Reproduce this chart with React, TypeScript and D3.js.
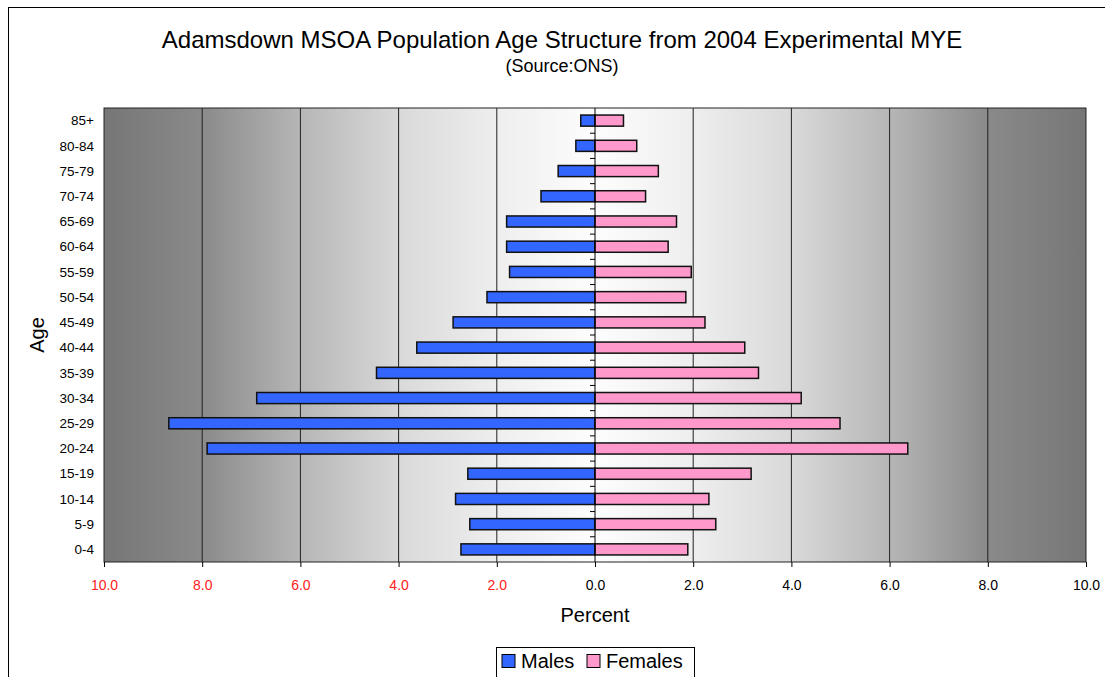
import * as d3 from "d3";
import { useRef, useEffect } from "react";

const ageGroups = [
  "0-4", "5-9", "10-14", "15-19", "20-24", "25-29", "30-34", "35-39", "40-44",
  "45-49", "50-54", "55-59", "60-64", "65-69", "70-74", "75-79", "80-84", "85+",
];
const males = [
  2.73, 2.55, 2.84, 2.59, 7.9, 8.68, 6.89, 4.45, 3.63,
  2.89, 2.2, 1.74, 1.8, 1.8, 1.1, 0.75, 0.39, 0.29,
];
const females = [
  1.89, 2.46, 2.32, 3.18, 6.37, 4.99, 4.2, 3.33, 3.05,
  2.24, 1.85, 1.96, 1.49, 1.66, 1.03, 1.29, 0.85, 0.58,
];
const xTicks = [-10, -8, -6, -4, -2, 0, 2, 4, 6, 8, 10];
const seriesNames = ["Males", "Females"];
const seriesColors = ["#3366ff", "#ff99cc"];

export default function App({
  width = 1105,
  height = 677,
  marginTop = 108,
  marginRight = 19,
  marginBottom = 115,
  marginLeft = 104,
}) {
  const gx = useRef(null);
  const gy = useRef(null);
  const font = "'Liberation Sans', Arial, sans-serif";

  const x = d3.scaleLinear([-10, 10], [marginLeft, width - marginRight]);
  const y = d3
    .scaleBand(ageGroups.slice().reverse(), [marginTop, height - marginBottom])
    .paddingInner(0.56)
    .paddingOuter(0.28);
  const bandStep = y.step();
  const plotBottom = height - marginBottom;

  useEffect(() => {
    const ax = d3
      .axisBottom(x)
      .tickValues(xTicks)
      .tickSize(5)
      .tickPadding(13)
      .tickFormat((d) => Math.abs(+d).toFixed(1));
    const g = d3.select(gx.current).call(ax);
    g.select(".domain").remove();
    g.selectAll("line").attr("stroke", "#000");
    g.selectAll("text")
      .attr("dy", "0.71em")
      .attr("font-size", 14)
      .attr("font-family", font)
      .attr("fill", (d) => (+d < 0 ? "#ff2020" : "#000"));
  }, [gx, x]);

  useEffect(() => {
    const g = d3.select(gy.current);
    g.selectAll("*").remove();
    // short ticks on the zero line between the age groups
    g.selectAll("line")
      .data(d3.range(1, ageGroups.length))
      .join("line")
      .attr("x1", x(0) - 5)
      .attr("x2", x(0))
      .attr("y1", (i) => marginTop + i * bandStep)
      .attr("y2", (i) => marginTop + i * bandStep)
      .attr("stroke", "#000");
  }, [gy, x]);

  const legendX = 496;
  const legendY = 647;

  return (
    <svg
      width={width}
      height={height}
      style={{ position: "absolute", left: 0, top: 0, background: "#fff" }}
      fontFamily={font}
    >
      <defs>
        <linearGradient id="bg" x1="0" x2="1" y1="0" y2="0">
          <stop offset="0" stopColor="#767676" />
          <stop offset="0.1" stopColor="#8a8a8a" />
          <stop offset="0.2" stopColor="#b6b6b6" />
          <stop offset="0.3" stopColor="#d9d9d9" />
          <stop offset="0.4" stopColor="#eeeeee" />
          <stop offset="0.5" stopColor="#fdfdfd" />
          <stop offset="0.6" stopColor="#eeeeee" />
          <stop offset="0.7" stopColor="#d9d9d9" />
          <stop offset="0.8" stopColor="#b6b6b6" />
          <stop offset="0.9" stopColor="#8a8a8a" />
          <stop offset="1" stopColor="#767676" />
        </linearGradient>
      </defs>
      <rect x={8.5} y={7.5} width={1200} height={1000} fill="#fff" stroke="#000" />
      <text x={562} y={48} textAnchor="middle" fontSize={24}>
        Adamsdown MSOA Population Age Structure from 2004 Experimental MYE
      </text>
      <text x={562} y={72} textAnchor="middle" fontSize={18}>
        (Source:ONS)
      </text>

      <rect
        x={marginLeft}
        y={marginTop}
        width={width - marginLeft - marginRight}
        height={plotBottom - marginTop}
        fill="url(#bg)"
      />
      <g stroke="#222" strokeWidth={1}>
        {xTicks
          .filter((t) => t !== 0 && Math.abs(t) !== 10)
          .map((t) => (
            <line key={t} x1={x(t)} x2={x(t)} y1={marginTop} y2={plotBottom} />
          ))}
      </g>
      <rect
        x={marginLeft}
        y={marginTop}
        width={width - marginLeft - marginRight}
        height={plotBottom - marginTop}
        fill="none"
        stroke="#222"
      />

      <g stroke="#111" strokeWidth={1.5}>
        {ageGroups.map((a, i) => (
          <rect
            key={"m" + a}
            x={x(-males[i])}
            y={y(a)}
            width={x(0) - x(-males[i])}
            height={y.bandwidth()}
            fill={seriesColors[0]}
          />
        ))}
        {ageGroups.map((a, i) => (
          <rect
            key={"f" + a}
            x={x(0)}
            y={y(a)}
            width={x(females[i]) - x(0)}
            height={y.bandwidth()}
            fill={seriesColors[1]}
          />
        ))}
      </g>
      <line x1={x(0)} x2={x(0)} y1={marginTop} y2={plotBottom} stroke="#000" />
      <g ref={gy} />
      <g ref={gx} transform={`translate(0,${plotBottom})`} />

      <g fontSize={13.5} textAnchor="end">
        {ageGroups.map((a) => (
          <text key={a} x={94} y={y(a) + y.bandwidth() / 2} dy="0.35em">
            {a}
          </text>
        ))}
      </g>
      <text
        transform={`translate(44,${(marginTop + plotBottom) / 2}) rotate(-90)`}
        textAnchor="middle"
        fontSize={20}
      >
        Age
      </text>
      <text x={x(0)} y={622} textAnchor="middle" fontSize={20}>
        Percent
      </text>

      <rect x={legendX + 0.5} y={legendY + 0.5} width={198} height={40} fill="#fff" stroke="#000" />
      {seriesNames.map((s, i) => {
        const lx = legendX + 6 + i * 85;
        return (
          <g key={s}>
            <rect x={lx} y={legendY + 7.5} width={13} height={13} fill={seriesColors[i]} stroke="#000" />
            <text x={lx + 19} y={legendY + 21} fontSize={20}>
              {s}
            </text>
          </g>
        );
      })}
    </svg>
  );
}
